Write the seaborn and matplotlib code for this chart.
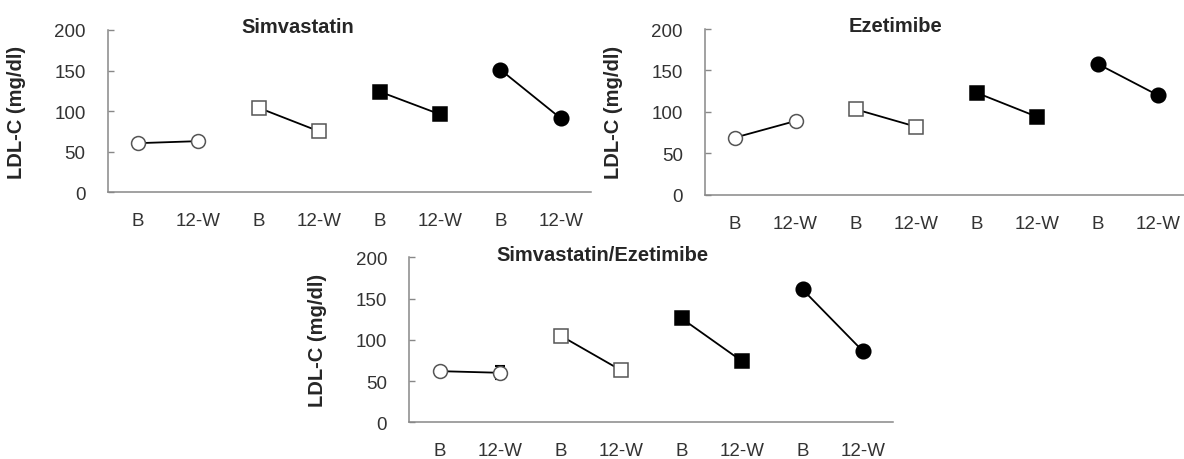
import numpy as np
import matplotlib
matplotlib.use("Agg")
import matplotlib.pyplot as plt
import seaborn as sns

# tick labels on the category axis
time_labels = ["B", "12-W", "B", "12-W", "B", "12-W", "B", "12-W"]

titles = ["Simvastatin", "Ezetimibe", "Simvastatin/Ezetimibe"]

# LDL-C values (B, 12-W) for the four groups of each panel
simva_vals = [[60.5, 63], [104, 75], [124, 96], [151, 91]]
ezet_vals = [[69, 89], [103, 82], [123, 94], [158, 120]]
combo_vals = [[62, 60], [105, 63], [126, 74], [161, 86]]

# error bar on the 12-W point of the first group
simva_err = [0, 4]
ezet_err = [0, 0]
combo_err = [0, 8]

sns.set_style("white")
plt.rcParams['font.family'] = ['Liberation Sans', 'DejaVu Sans']

# group marker styles: open circle, open square, filled square, filled circle
styles = [("o", "white", "#555555", 10),
          ("s", "white", "#555555", 10.5),
          ("s", "black", "black", 10.5),
          ("o", "black", "black", 10.5)]

fig = plt.figure(figsize=(11.84, 4.60), dpi=100)

# axes boxes in figure fractions (left, bottom, width, height)
boxes = [[0.0910, 0.5798, 0.4082, 0.3530],
         [0.5954, 0.5746, 0.4082, 0.3600],
         [0.3457, 0.0798, 0.4088, 0.3587]]
title_pos = [(298 / 1184, 1 - 32.7 / 460), (896 / 1184, 1 - 31.7 / 460), (602 / 1184, 1 - 261 / 460)]

all_vals = [simva_vals, ezet_vals, combo_vals]
all_err = [simva_err, ezet_err, combo_err]
grey = "#888888"

for p in range(3):
    ax = fig.add_axes(boxes[p])
    vals = all_vals[p]
    for g in range(4):
        xs = [2 * g, 2 * g + 1]
        if g == 0:
            ax.errorbar(xs, vals[g], yerr=all_err[p], fmt="none", ecolor="black",
                        elinewidth=1.2, capsize=3.5, capthick=1.5, zorder=1)
        m, fc, ec, ms = styles[g]
        sns.lineplot(x=xs, y=vals[g], ax=ax, color="black", lw=1.3, marker=m,
                     markersize=ms, markerfacecolor=fc, markeredgecolor=ec,
                     markeredgewidth=1.1, zorder=3)

    ax.set_xlim(-0.5, 7.5)
    ax.set_ylim(0, 200)
    ax.set_yticks([0, 50, 100, 150, 200])
    ax.set_xticks(np.arange(len(time_labels)))
    ax.set_xticklabels(time_labels)
    ax.set_xticks(np.arange(0.5, 7, 1), minor=True)
    ax.tick_params(axis="x", which="major", length=0, pad=14.5, labelsize=13.5, labelcolor="#333333")
    ax.tick_params(axis="x", which="minor", direction="in", length=4, width=1, color=grey)
    ax.tick_params(axis="y", direction="in", length=4, width=1, color=grey, pad=16,
                   labelsize=13.5, labelcolor="#333333", left=True)
    for s in ["top", "right"]:
        ax.spines[s].set_visible(False)
    for s in ["left", "bottom"]:
        ax.spines[s].set_color(grey)
        ax.spines[s].set_linewidth(1.1)
    ax.set_ylabel("LDL-C (mg/dl)", fontsize=14.5, fontweight="bold")
    ax.yaxis.set_label_coords(-0.170, 0.5)
    ax.set_xlabel("")
    fig.text(title_pos[p][0], title_pos[p][1], titles[p], ha="center", va="baseline",
             fontsize=14.5, fontweight="bold")

fig.savefig("out.png", dpi=100)
